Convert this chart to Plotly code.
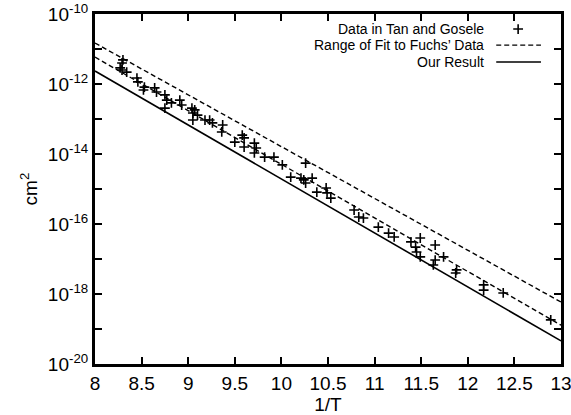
import plotly.graph_objects as go

# Data points (1/T, log10 of value in cm^2)
data_x = [8.30, 8.29, 8.27, 8.29, 8.34, 8.45, 8.46, 8.53, 8.52, 8.64, 8.66, 8.75, 8.77, 8.82,
          8.75, 8.91, 8.93, 9.04, 9.05, 9.05,
          9.07, 9.10, 9.18, 9.23, 9.26, 9.37, 9.36, 9.50, 9.58, 9.60, 9.60, 9.71, 9.73, 9.71,
          9.82, 9.92, 10.01,
          10.26, 10.10, 10.21, 10.24, 10.26, 10.33, 10.38, 10.48, 10.49, 10.53, 10.78, 10.83, 10.88,
          11.04, 11.15, 11.21, 11.39, 11.44, 11.45, 11.49, 11.49, 11.65, 11.74, 11.65, 11.63,
          11.88, 11.87,
          12.17, 12.17, 12.38, 12.89]
data_logy = [-11.31, -11.40, -11.54, -11.60, -11.66, -11.83, -11.94, -12.09, -12.17, -12.11, -12.23,
             -12.31, -12.46, -12.54, -12.69, -12.46, -12.60, -12.69, -12.83, -13.03,
             -12.74, -12.89, -13.03, -13.03, -13.11, -13.17, -13.37, -13.66, -13.46, -13.54, -13.80,
             -13.69, -13.83, -13.97, -14.09, -14.09, -14.31,
             -14.26, -14.66, -14.69, -14.74, -14.83, -14.69, -15.09, -14.97, -15.11, -15.26, -15.60,
             -15.80, -15.83,
             -16.09, -16.26, -16.37, -16.51, -16.66, -16.80, -16.94, -16.40, -16.60, -16.94, -17.03,
             -17.17, -17.31, -17.40,
             -17.74, -17.89, -17.97, -18.74]
data_y = [10 ** v for v in data_logy]

# Lines (endpoints at 1/T = 8 and 13, log10 values)
line_x = [8, 13]
fit_upper_logy = [-10.83, -18.23]
fit_lower_logy = [-11.23, -18.89]
result_logy = [-11.63, -19.34]

x_ticks = [8, 8.5, 9, 9.5, 10, 10.5, 11, 11.5, 12, 12.5, 13]
x_ticklabels = ["8", "8.5", "9", "9.5", "10", "10.5", "11", "11.5", "12", "12.5", "13"]
y_exps = list(range(-20, -9))
y_ticklabels = ["10<sup>%d</sup>" % e if e % 2 == 0 else "" for e in y_exps]

font = "Liberation Sans, Arial, Helvetica, sans-serif"

fig = go.Figure()
fig.add_trace(go.Scatter(x=line_x, y=[10 ** v for v in fit_upper_logy], mode="lines",
                         line=dict(color="black", width=1.4, dash="5px,3px"), showlegend=False))
fig.add_trace(go.Scatter(x=line_x, y=[10 ** v for v in fit_lower_logy], mode="lines",
                         line=dict(color="black", width=1.4, dash="5px,3px"), showlegend=False))
fig.add_trace(go.Scatter(x=line_x, y=[10 ** v for v in result_logy], mode="lines",
                         line=dict(color="black", width=1.6), showlegend=False))
fig.add_trace(go.Scatter(x=data_x, y=data_y, mode="markers",
                         marker=dict(symbol="cross-thin", size=7, color="black",
                                     line=dict(color="black", width=1.6)),
                         showlegend=False))

# Legend samples on an overlay axis
fig.add_trace(go.Scatter(x=[0.908], y=[0.957], xaxis="x2", yaxis="y2", mode="markers",
                         marker=dict(symbol="cross-thin", size=7, color="black",
                                     line=dict(color="black", width=1.6)),
                         showlegend=False, hoverinfo="skip"))
fig.add_trace(go.Scatter(x=[0.861, 0.957], y=[0.911, 0.911], xaxis="x2", yaxis="y2", mode="lines",
                         line=dict(color="black", width=1.4, dash="5px,3px"),
                         showlegend=False, hoverinfo="skip"))
fig.add_trace(go.Scatter(x=[0.861, 0.957], y=[0.863, 0.863], xaxis="x2", yaxis="y2", mode="lines",
                         line=dict(color="black", width=1.6),
                         showlegend=False, hoverinfo="skip"))

legend_labels = ["Data in Tan and Gosele", "Range of Fit to Fuchs\u2019 Data", "Our Result"]
legend_y = [0.957, 0.911, 0.863]
annotations = []
for lab, yy in zip(legend_labels, legend_y):
    annotations.append(dict(x=0.838, y=yy, xref="x2", yref="y2", text=lab, showarrow=False,
                            xanchor="right", yanchor="middle",
                            font=dict(family=font, size=14, color="black")))

fig.update_layout(
    width=571, height=415,
    margin=dict(l=95, r=10, t=14, b=51, autoexpand=False),
    plot_bgcolor="white", paper_bgcolor="white",
    font=dict(family=font, size=19, color="black"),
    xaxis=dict(range=[8, 13], tickvals=x_ticks, ticktext=x_ticklabels,
               ticks="inside", ticklen=7, tickwidth=2, tickcolor="black",
               showline=True, linewidth=3, linecolor="black", mirror="ticks",
               showgrid=False, zeroline=False, automargin=False, ticklabeloverflow="allow",
               title=dict(text="1/T", standoff=0, font=dict(size=19))),
    yaxis=dict(type="log", range=[-20, -10], tickvals=[10 ** e for e in y_exps],
               ticktext=y_ticklabels,
               ticks="inside", ticklen=7, tickwidth=2, tickcolor="black",
               showline=True, linewidth=3, linecolor="black", mirror="ticks",
               showgrid=False, zeroline=False, automargin=False, ticklabeloverflow="allow",
               title=dict(text="cm<sup>2</sup>", standoff=6, font=dict(size=19))),
    xaxis2=dict(overlaying="x", range=[0, 1], visible=False, fixedrange=True),
    yaxis2=dict(overlaying="y", range=[0, 1], visible=False, fixedrange=True),
    annotations=annotations,
)

fig.write_html("out.html", config={"displayModeBar": False},
               post_script="document.body.style.margin='0';document.body.style.overflow='hidden';")
